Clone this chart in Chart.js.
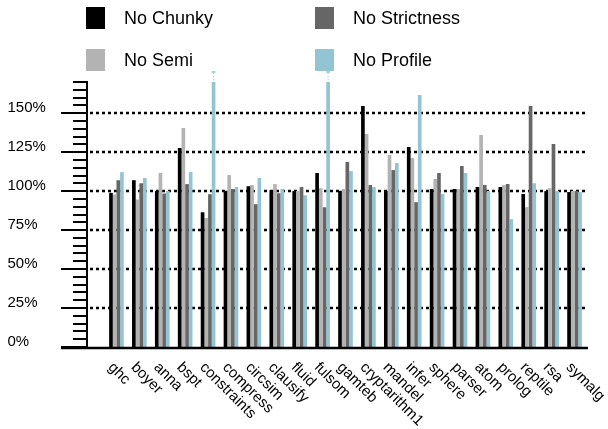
<!DOCTYPE html>
<html>
<head>
<meta charset="utf-8">
<style>
  html, body { margin: 0; padding: 0; background: #fff; }
  #wrap { width: 608px; height: 429px; }
</style>
<script src="https://cdn.jsdelivr.net/npm/chart.js@4/dist/chart.umd.min.js"></script>
</head>
<body>
<div id="wrap"><canvas id="c" width="608" height="429"></canvas></div>
<script>
// Benchmarks (nofib programs)
const categories = ['ghc', 'boyer', 'anna', 'bspt', 'constraints', 'compress', 'circsim',
  'clausify', 'fluid', 'fulsom', 'gamteb', 'cryptarithm1', 'mandel', 'infer', 'sphere',
  'parser', 'atom', 'prolog', 'reptile', 'rsa', 'symalg'];

// Run time relative to the baseline, in percent
const noChunky     = [98.9, 107, 100, 127.6, 86.5, 100.2, 103.2, 100.6, 100, 111.6, 100.2, 154.6, 100.2, 128.3, 101.3, 101.3, 102.6, 102.6, 98.1, 100, 99.4];
const noSemi       = [97.9, 94.6, 111.6, 140.5, 82.7, 110.3, 103.9, 104.5, 100.2, 101.9, 101.3, 136.6, 123.1, 121.2, 107.7, 101.3, 136, 103.9, 89.7, 101.9, 100];
const noStrictness = [107, 105, 98.5, 104.5, 98, 101.3, 91.6, 98.7, 102.6, 89.7, 118.6, 103.9, 113.5, 92.9, 111.6, 116.1, 103.9, 104.5, 154.6, 130.2, 100];
const noProfile    = [112.2, 108.4, 100, 112.2, 170, 102.6, 108.4, 101.3, 97.4, 170, 112.8, 102.6, 118, 161.7, 98.1, 111.6, 100, 82, 105.1, 100, 99.4];

// Axis
const yMax = 170;
const majorTicks = [0, 25, 50, 75, 100, 125, 150];
const minorStep = 5;

const FONT = '"Liberation Sans", Arial, Helvetica, sans-serif';

// Axes, tick marks, dotted reference lines, rotated category labels, legend, overflow marks
const decorations = {
  id: 'decorations',
  beforeDatasetsDraw(chart) {
    const ctx = chart.ctx, y = chart.scales.y;
    ctx.save();
    ctx.strokeStyle = '#000';
    ctx.lineWidth = 2.5;
    ctx.setLineDash([3, 3]);
    majorTicks.filter(v => v > 0).forEach(v => {
      const py = Math.round(y.getPixelForValue(v));
      ctx.beginPath();
      ctx.moveTo(90, py);
      ctx.lineTo(586, py);
      ctx.stroke();
    });
    ctx.restore();
  },
  afterDatasetsDraw(chart) {
    const ctx = chart.ctx, x = chart.scales.x, y = chart.scales.y;
    const axisX = 87;
    const base = y.getPixelForValue(0);
    ctx.save();
    ctx.strokeStyle = '#000';
    ctx.lineWidth = 2;
    ctx.setLineDash([]);
    // vertical axis
    ctx.beginPath();
    ctx.moveTo(axisX, y.getPixelForValue(yMax) - 1);
    ctx.lineTo(axisX, base + 2);
    ctx.stroke();
    // minor + major tick marks
    for (let v = 0; v <= yMax; v += minorStep) {
      const py = Math.round(y.getPixelForValue(v));
      const major = majorTicks.includes(v);
      ctx.beginPath();
      ctx.moveTo(major ? 61 : 73, py);
      ctx.lineTo(axisX, py);
      ctx.stroke();
    }
    // horizontal axis
    ctx.lineWidth = 2.5;
    ctx.beginPath();
    ctx.moveTo(61, base + 1);
    ctx.lineTo(588, base + 1);
    ctx.stroke();

    // bars running past the top of the scale
    chart.data.datasets.forEach((ds, di) => {
      const meta = chart.getDatasetMeta(di);
      ds.data.forEach((v, i) => {
        if (v < yMax) return;
        const bar = meta.data[i];
        const top = bar.y;
        ctx.fillStyle = ds.backgroundColor;
        ctx.globalAlpha = 0.8;
        ctx.fillRect(bar.x - bar.width / 2, top - 11, bar.width, 2);
        ctx.strokeStyle = ds.backgroundColor;
        ctx.lineWidth = 1;
        ctx.setLineDash([1.5, 1.5]);
        ctx.beginPath();
        ctx.moveTo(bar.x, top - 9);
        ctx.lineTo(bar.x, top);
        ctx.stroke();
        ctx.globalAlpha = 1;
        ctx.setLineDash([]);
      });
    });

    // category labels, slanted downwards
    ctx.fillStyle = '#000';
    ctx.font = '15px ' + FONT;
    ctx.textAlign = 'left';
    ctx.textBaseline = 'middle';
    categories.forEach((c, i) => {
      const px = x.getPixelForValue(i);
      ctx.save();
      ctx.translate(px - 6, 365);
      ctx.rotate(Math.PI / 4);
      ctx.fillText(c, 0, 0);
      ctx.restore();
    });

    // legend in two columns
    const slots = [[86, 7], [86, 49], [315, 7], [315, 49]];
    const order = [0, 1, 2, 3]; // Chunky, Semi | Strictness, Profile
    ctx.font = '18px ' + FONT;
    ctx.textBaseline = 'alphabetic';
    order.forEach((di, k) => {
      const ds = chart.data.datasets[di];
      const [lx, ly] = slots[k];
      ctx.fillStyle = ds.backgroundColor;
      ctx.fillRect(lx, ly, 19, 22);
      ctx.fillStyle = '#000';
      ctx.fillText(ds.label, lx + 38, ly + 17);
    });
    ctx.restore();
  }
};

new Chart(document.getElementById('c'), {
  type: 'bar',
  data: {
    labels: categories,
    datasets: [
      { label: 'No Chunky', data: noChunky, backgroundColor: '#000000' },
      { label: 'No Semi', data: noSemi, backgroundColor: '#b3b3b3' },
      { label: 'No Strictness', data: noStrictness, backgroundColor: '#666666' },
      { label: 'No Profile', data: noProfile, backgroundColor: '#93c4d4' }
    ]
  },
  options: {
    responsive: false,
    animation: false,
    devicePixelRatio: 1,
    layout: { padding: { left: 7.5, right: 22, top: 82, bottom: 82 } },
    datasets: { bar: { categoryPercentage: 0.64, barPercentage: 1.0, borderWidth: 0 } },
    plugins: { legend: { display: false }, tooltip: { enabled: false } },
    scales: {
      x: { display: false },
      y: {
        min: 0,
        max: yMax,
        afterFit(scale) { scale.width = 97.5; },
        afterBuildTicks(scale) {
          scale.ticks = majorTicks.map(v => ({ value: v }));
        },
        grid: { display: false, drawTicks: false },
        border: { display: false },
        ticks: {
          crossAlign: 'far',
          labelOffset: -5,
          color: '#000',
          font: { family: FONT, size: 15 },
          callback: v => v + '%'
        }
      }
    }
  },
  plugins: [decorations]
});
</script>
</body>
</html>
